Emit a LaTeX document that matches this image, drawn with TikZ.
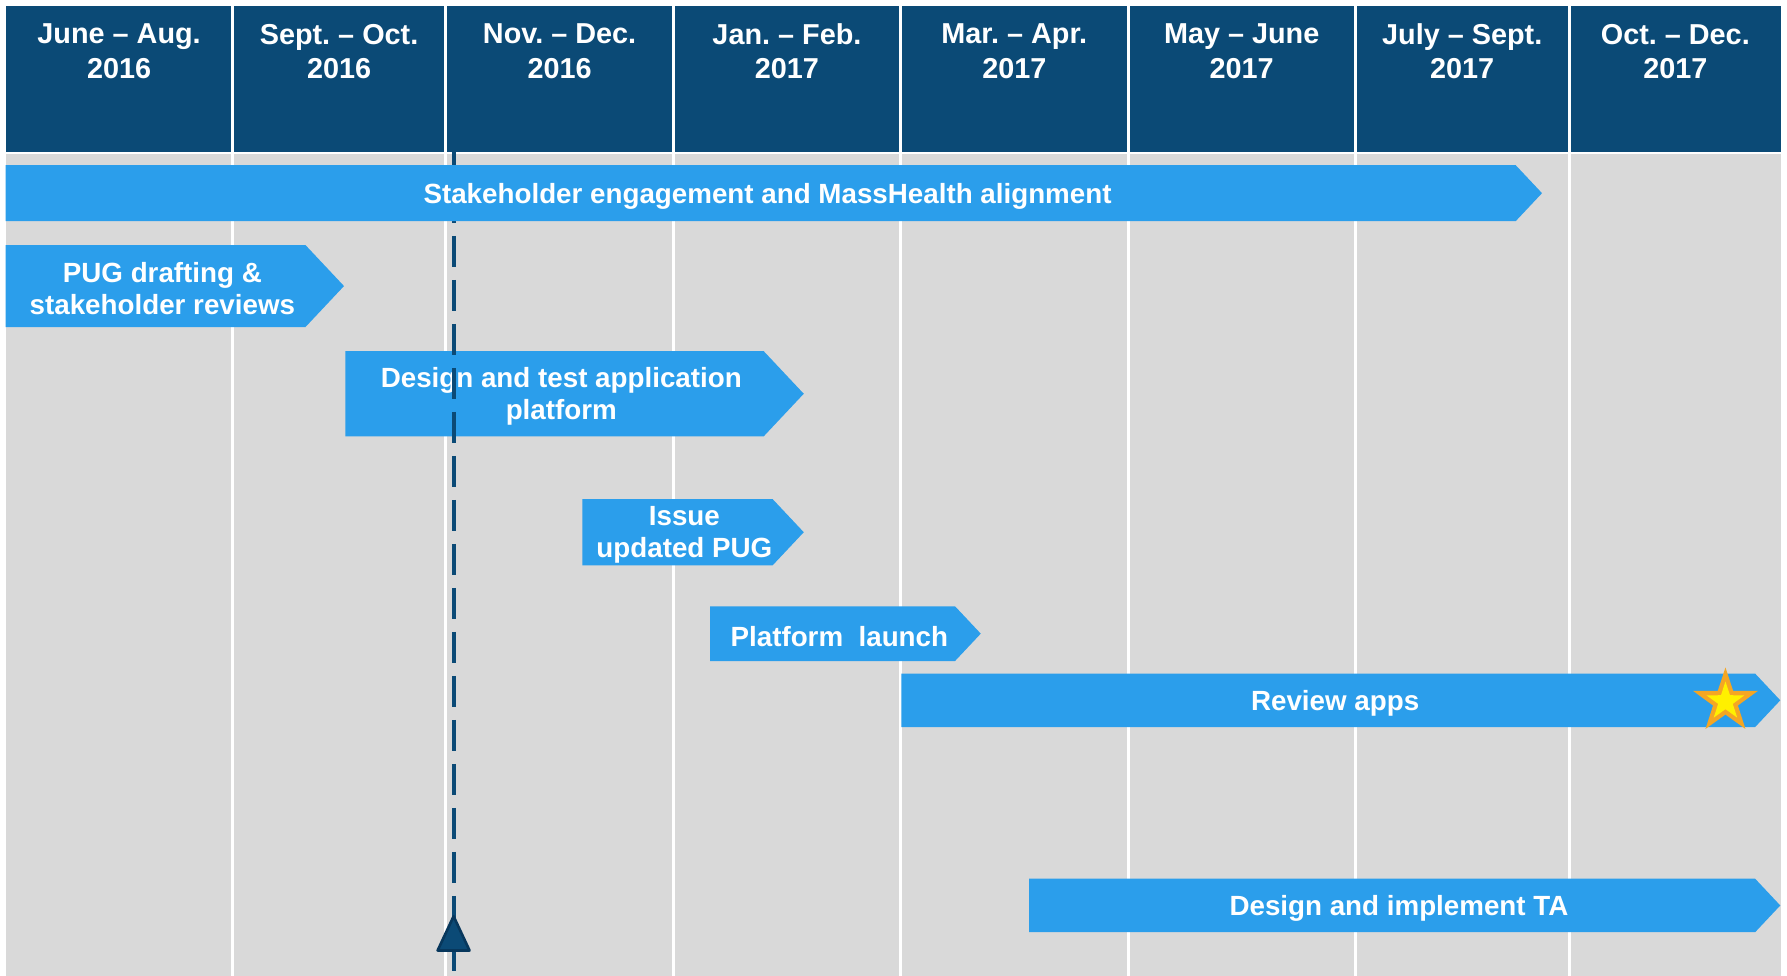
\documentclass[tikz,border=0pt]{standalone}
\usepackage{fontspec}
\setmainfont{Liberation Sans}
\usepackage{xcolor}
\usepackage{tikz}
\usetikzlibrary{shapes.geometric,positioning}

\definecolor{headblue}{RGB}{11,74,118}
\definecolor{barblue}{RGB}{43,158,235}
\definecolor{gridgray}{RGB}{217,217,217}
\definecolor{starorange}{RGB}{245,166,35}
\definecolor{staryellow}{RGB}{255,240,0}
\definecolor{markblue}{RGB}{7,55,92}

% bar with a pointed end: name, left, top, right, bottom, label
\newcommand{\ganttbar}[6]{%
  \fill[barblue] (#2,#3) -- (#4,#3) -- ({#4+0.47*(#5-#3)},{(#3+#5)/2}) -- (#4,#5) -- (#2,#5) -- cycle;
  \node[barlabel] (#1) at ({(#2+#4)/2+6},{(#3+#5)/2+2.5}) {#6};
}

\begin{document}
\frenchspacing
\begin{tikzpicture}[
    x=0.0228cm, y=-0.0228cm,
    head/.style={text=white, font=\fontsize{16.4}{19.5}\selectfont\bfseries, align=center, inner sep=0pt},
    barlabel/.style={text=white, font=\fontsize{15.8}{18.2}\selectfont\bfseries, align=center, inner sep=0pt},
    gridline/.style={draw=white, line width=1.7pt},
    nowline/.style={draw=headblue, line width=2.3pt, dash pattern=on 17.65pt off 7.4pt, dash phase=2.5pt},
    goalstar/.style={star, star points=5, star point ratio=2.6, inner sep=0pt}
]
    \useasboundingbox (0,0) rectangle (1568,856);
    \fill[white] (0,0) rectangle (1568,856);

    % period headers
    \foreach \xa/\xb/\period [count=\i] in {
        5/204/{June -- Aug.\\2016}, 204/391/{Sept. -- Oct.\\2016},
        391/591/{Nov. -- Dec.\\2016}, 591/790/{Jan. -- Feb.\\2017},
        790/990/{Mar. -- Apr.\\2017}, 990/1189/{May -- June\\2017},
        1189/1377/{July -- Sept.\\2017}, 1377/1563/{Oct. -- Dec.\\2017}} {
        \fill[headblue] (\xa,5) rectangle (\xb,133.5);
        \node[head] (h\i) at ({(\xa+\xb)/2},45) {\period};
    }
    \fill[gridgray] (5,135.5) rectangle (1563,856);
    \foreach \x in {204,391,591,790,990,1189,1377}
        \draw[gridline] (\x,5) -- (\x,856);

    \ganttbar{pug}{5}{215}{268}{287}{PUG drafting \&\\stakeholder reviews}
    \ganttbar{design}{303}{308}{670}{383}{Design and test application\\platform}
    \ganttbar{issue}{511}{438}{678}{496}{Issue\\updated PUG}
    \ganttbar{launch}{623}{532}{838}{580}{Platform\ \ launch}
    \ganttbar{review}{791}{591}{1540}{638}{Review apps}
    \ganttbar{ta}{903}{771}{1540}{818}{Design and implement TA}

    % current date marker
    \coordinate (nowtop) at (398,133.5);
    \coordinate (nowbot) at (398,856);
    \draw[nowline] (nowtop) -- (nowbot);
    \filldraw[fill=headblue, draw=markblue, line width=1.5pt, line join=round]
        (398,804) -- (412,834) -- (384,834) -- cycle;

    \ganttbar{engage}{5}{145}{1330}{194}{Stakeholder engagement and MassHealth alignment}

    \node[goalstar, fill=starorange, minimum size=1.36cm] (goal) at (1514,615.5) {};
    \node[goalstar, fill=staryellow, minimum size=0.8cm] (goalin) at (goal.center) {};
\end{tikzpicture}
\end{document}
